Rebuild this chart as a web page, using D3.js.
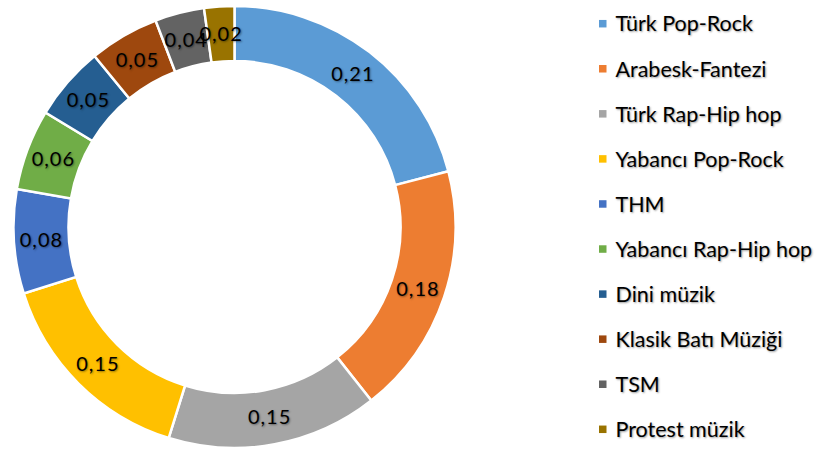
<!DOCTYPE html>
<html><head><meta charset="utf-8">
<script src="https://cdn.jsdelivr.net/npm/d3@7"></script>
<style>
body{margin:0;background:#fff;}
text{font-family:Lato,"Open Sans",sans-serif;fill:#000;}
.shadow{text-shadow:1px 1px 2px rgba(0,0,0,0.4);}
</style></head>
<body><svg id="c" width="822" height="450"></svg>
<script>
const categories = ["Türk Pop-Rock","Arabesk-Fantezi","Türk Rap-Hip hop","Yabancı Pop-Rock","THM","Yabancı Rap-Hip hop","Dini müzik","Klasik Batı Müziği","TSM","Protest müzik"];
const values = [0.209,0.184,0.154,0.153,0.076,0.059,0.054,0.051,0.036,0.022];
const colors = ["#5B9BD5","#ED7D31","#A5A5A5","#FFC000","#4472C4","#70AD47","#255E91","#9E480E","#636363","#997300"];

const svg = d3.select("#c");
const cx = 234.5, cy = 227, rOuter = 221, rInner = 166;
const data = categories.map((c,i)=>({name:c,value:values[i],color:colors[i]}));
const pie = d3.pie().value(d=>d.value).sort(null);
const arc = d3.arc().innerRadius(rInner).outerRadius(rOuter);
const g = svg.append("g").attr("transform",`translate(${cx},${cy})`);
const arcs = pie(data);
g.selectAll("path").data(arcs).join("path")
  .attr("d",arc).attr("fill",d=>d.data.color)
  .attr("stroke","#fff").attr("stroke-width",2.5);
const fmt = v => v.toFixed(2).replace(".",",");
g.selectAll("text").data(arcs).join("text")
  .attr("class","shadow")
  .attr("transform",d=>`translate(${arc.centroid(d)})`)
  .attr("text-anchor","middle").attr("dy","0.36em")
  .style("font-size","20px").style("letter-spacing","1px")
  .text(d=>fmt(d.data.value));

const leg = svg.append("g");
const y = d3.scalePoint().domain(categories).range([23.7,429.3]);
const items = leg.selectAll("g").data(data).join("g")
  .attr("transform",d=>`translate(599,${y(d.name)})`);
items.append("rect").attr("x",0).attr("y",-3.75).attr("width",7.5).attr("height",7.5).attr("fill",d=>d.color);
items.append("text").attr("class","shadow").attr("x",16.5).attr("dy","0.36em")
  .style("font-size","21.5px").text(d=>d.name);
</script></body></html>
